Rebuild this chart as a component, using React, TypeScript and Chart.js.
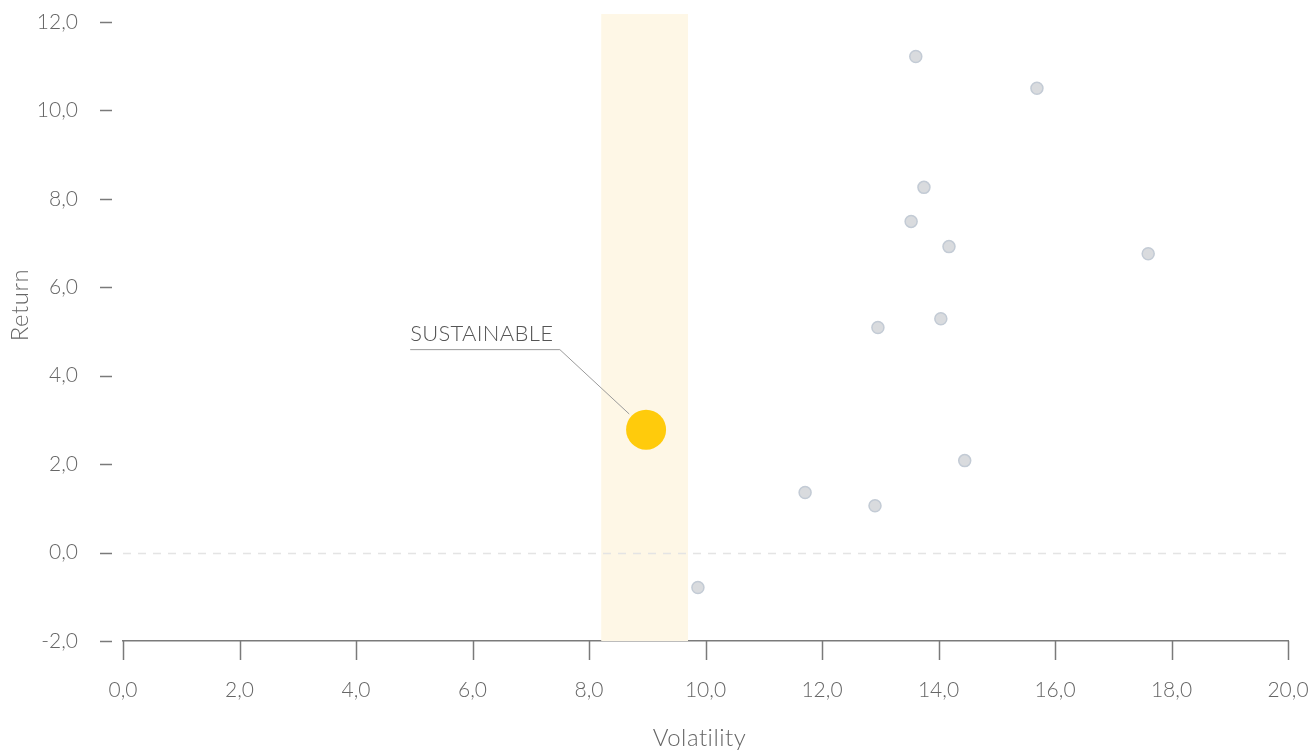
import React, { useEffect, useRef } from 'react';
import { Chart, registerables } from 'chart.js';

Chart.register(...registerables);

const peerVolatility = [13.61, 15.69, 13.75, 13.53, 14.18, 17.6, 12.96, 14.04, 14.45, 11.71, 12.91, 9.87];
const peerReturn = [11.22, 10.5, 8.26, 7.49, 6.92, 6.76, 5.09, 5.29, 2.08, 1.36, 1.06, -0.79];
const sustainableVolatility = [8.98];
const sustainableReturn = [2.78];
const highlightBand = [8.21, 9.7];
const highlightTop = 12.18;
const annotationLabel = 'SUSTAINABLE';
const annotationStart = [4.93, 4.59];
const annotationElbowX = 7.5;
const xRange = [0, 20];
const yRange = [-2, 12];
const tickStep = 2;
const xTitle = 'Volatility';
const yTitle = 'Return';

const FONT = 'Lato';
const TEXT = '#666666';
const AXIS = '#7a7a7a';

const fmt = (v: number) => Number(v).toFixed(1).replace('.', ',');

const decorPlugin = {
  id: 'decor',
  beforeDatasetsDraw(chart: any) {
    const { ctx, chartArea, scales } = chart;
    const x = scales.x;
    const y = scales.y;
    ctx.save();
    // highlight band
    const bx1 = x.getPixelForValue(highlightBand[0]);
    const bx2 = x.getPixelForValue(highlightBand[1]);
    const by = y.getPixelForValue(highlightTop);
    ctx.fillStyle = '#fef7e6';
    ctx.fillRect(bx1, by, bx2 - bx1, chartArea.bottom - by);
    // zero line
    const zy = Math.round(y.getPixelForValue(0)) + 0.5;
    ctx.strokeStyle = '#e4e4e4';
    ctx.lineWidth = 1.5;
    ctx.setLineDash([8, 7]);
    ctx.beginPath();
    ctx.moveTo(chartArea.left, zy);
    ctx.lineTo(chartArea.right, zy);
    ctx.stroke();
    ctx.setLineDash([]);
    // y tick dashes
    ctx.strokeStyle = AXIS;
    ctx.lineWidth = 1.5;
    y.ticks.forEach((t: any) => {
      const py = Math.round(y.getPixelForValue(t.value)) + 0.5;
      ctx.beginPath();
      ctx.moveTo(chartArea.left - 23, py);
      ctx.lineTo(chartArea.left - 11, py);
      ctx.stroke();
    });
    // x tick marks
    x.ticks.forEach((t: any) => {
      const px = Math.round(x.getPixelForValue(t.value)) + 0.5;
      ctx.beginPath();
      ctx.moveTo(px, chartArea.bottom);
      ctx.lineTo(px, chartArea.bottom + 19);
      ctx.stroke();
    });
    // axis titles
    ctx.fillStyle = TEXT;
    ctx.font = `300 24px ${FONT}`;
    (ctx as any).letterSpacing = '0.5px';
    ctx.textAlign = 'center';
    ctx.textBaseline = 'middle';
    ctx.fillText(xTitle, (chartArea.left + chartArea.right) / 2 - 6, chartArea.bottom + 97);
    ctx.save();
    ctx.translate(20, chartArea.top + 283);
    ctx.rotate(-Math.PI / 2);
    ctx.fillText(yTitle, 0, 0);
    ctx.restore();
    // annotation
    const tx = x.getPixelForValue(annotationStart[0]);
    const ty = y.getPixelForValue(annotationStart[1]);
    const ex = x.getPixelForValue(annotationElbowX);
    const cx = x.getPixelForValue(sustainableVolatility[0]);
    const cy = y.getPixelForValue(sustainableReturn[0]);
    const dx = ex - cx;
    const dy = ty - cy;
    const d = Math.sqrt(dx * dx + dy * dy);
    const endX = cx + (dx / d) * 23;
    const endY = cy + (dy / d) * 23;
    ctx.strokeStyle = '#9a9a9a';
    ctx.lineWidth = 1;
    ctx.beginPath();
    ctx.moveTo(tx, ty);
    ctx.lineTo(ex, ty);
    ctx.lineTo(endX, endY);
    ctx.stroke();
    ctx.fillStyle = '#555555';
    ctx.font = `300 22px ${FONT}`;
    (ctx as any).letterSpacing = '0.3px';
    ctx.textAlign = 'left';
    ctx.textBaseline = 'alphabetic';
    ctx.fillText(annotationLabel, tx, ty - 9);
    ctx.restore();
  },
};

export default function App() {
  const ref = useRef<HTMLCanvasElement | null>(null);
  useEffect(() => {
    document.body.style.margin = '0';
    const peers = peerVolatility.map((v, i) => ({ x: v, y: peerReturn[i] }));
    const sust = sustainableVolatility.map((v, i) => ({ x: v, y: sustainableReturn[i] }));
    const chart = new Chart(ref.current as HTMLCanvasElement, {
      type: 'scatter',
      data: {
        datasets: [
          {
            label: 'Peers',
            data: peers,
            pointRadius: 6,
            pointHoverRadius: 6,
            backgroundColor: '#d9dbde',
            borderColor: '#c3cbd5',
            borderWidth: 1.5,
          },
          {
            label: 'Sustainable',
            data: sust,
            pointRadius: 20,
            pointHoverRadius: 20,
            backgroundColor: '#ffcb0c',
            borderColor: '#ffcb0c',
            borderWidth: 0,
          },
        ],
      },
      options: {
        animation: false,
        responsive: true,
        maintainAspectRatio: false,
        layout: { padding: { top: 22, right: 28, bottom: 0, left: 0 } },
        plugins: { legend: { display: false }, tooltip: { enabled: false } },
        scales: {
          x: {
            type: 'linear',
            min: xRange[0],
            max: xRange[1],
            afterFit: (s: any) => { s.height = 110; },
            border: { display: true, color: AXIS, width: 1.5 },
            grid: { display: true, drawOnChartArea: false, drawTicks: true, tickLength: 37, color: 'rgba(0,0,0,0)' },
            ticks: {
              stepSize: tickStep,
              padding: 0,
              color: TEXT,
              font: { family: FONT, size: 21, weight: '300' as any },
              callback: (v: any) => fmt(v),
            },
            title: { display: false, text: xTitle },
          },
          y: {
            type: 'linear',
            min: yRange[0],
            max: yRange[1],
            afterFit: (s: any) => { s.width = 123; },
            border: { display: false },
            grid: { display: true, drawOnChartArea: false, drawTicks: true, tickLength: 45, color: 'rgba(0,0,0,0)' },
            ticks: {
              stepSize: tickStep,
              padding: 0,
              color: TEXT,
              font: { family: FONT, size: 21, weight: '300' as any },
              callback: (v: any) => fmt(v),
            },
            title: { display: false, text: yTitle },
          },
        },
      },
      plugins: [decorPlugin],
    });
    return () => chart.destroy();
  }, []);
  return (
    <div style={{ position: 'absolute', left: 0, top: 0, width: 1316, height: 751 }}>
      <canvas ref={ref} />
    </div>
  );
}
